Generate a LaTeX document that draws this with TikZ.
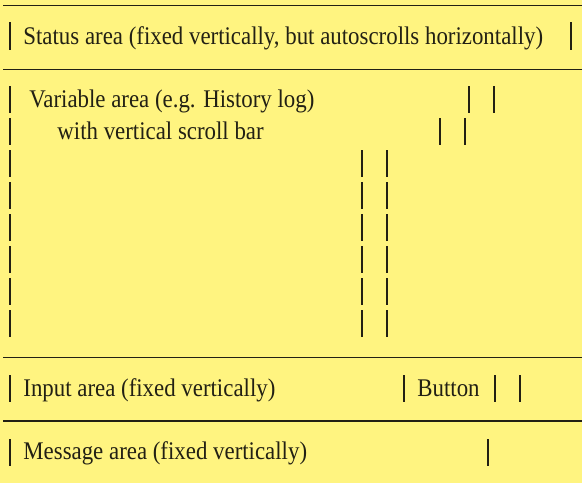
\documentclass[tikz,border=0pt]{standalone}
\usepackage{fontspec}
\setmainfont{Liberation Serif}[FakeStretch=0.9]
\usepackage{tikz}
\usetikzlibrary{positioning}

\definecolor{paper}{RGB}{255,244,128}
\definecolor{ink}{RGB}{34,32,20}

\begin{document}
\begin{tikzpicture}[x=0.5pt, y=-0.5pt,
        areatext/.style={anchor=base west, inner sep=0pt, text=ink, font=\fontsize{12.7}{15}\selectfont},
        bar/.style={draw=ink, line width=0.7pt},
        hrule/.style={draw=ink, line width=0.75pt}]

        \fill[paper] (0,0) rectangle (582,483);
        \useasboundingbox (0,0) rectangle (582,483);

        % separator lines
        \draw[hrule] (3,5.5) -- (582,5.5);
        \draw[hrule] (3,69.5) -- (582,69.5);
        \draw[hrule] (3,357.5) -- (582,357.5);
        \draw[hrule] (3,421) -- (582,421);

        % status area
        \node[areatext] (status) at (23,44) {Status area (fixed vertically, but autoscrolls horizontally)};
        \foreach \x in {10,571}
            \draw[bar] (\x,22) -- (\x,50);

        % variable area
        \node[areatext] (variable) at (29,107) {Variable area (e.g. History log)};
        \node[areatext] (scroll) at (57,139) {with vertical scroll bar};
        \foreach \x in {10,469,494}
            \draw[bar] (\x,86) -- (\x,113);
        \foreach \x in {10,440,465}
            \draw[bar] (\x,118) -- (\x,145);
        \foreach \b in {171,203,235,267,299,331}
            \foreach \x in {10,362,387}
                \draw[bar] (\x,\b-21) -- (\x,\b+6);

        % input area
        \node[areatext] (input) at (23,396) {Input area (fixed vertically)};
        \node[areatext] (button) at (417,396) {Button};
        \foreach \x in {10,404,495,520}
            \draw[bar] (\x,375) -- (\x,402);

        % message area
        \node[areatext] (message) at (23,459) {Message area (fixed vertically)};
        \foreach \x in {10,488}
            \draw[bar] (\x,439) -- (\x,466);
    \end{tikzpicture}
\end{document}
